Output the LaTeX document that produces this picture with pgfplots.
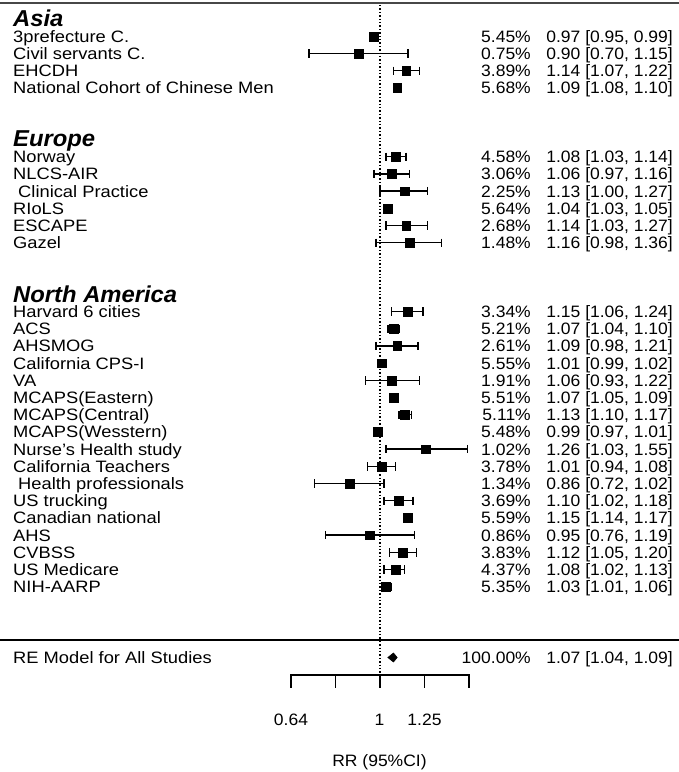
\documentclass[border=0pt]{standalone}
\usepackage{pgfplots}
\pgfplotsset{compat=1.18}
\usepackage{pgfplotstable}
\usepackage{fontspec}
\setmainfont{Liberation Sans}

% point estimates: y = -(row centre in px from top), RR
\pgfplotstableread{
y est
-36.4 0.97
-53.6 0.90
-70.8 1.14
-88.0 1.09
-156.8 1.08
-174.0 1.06
-191.2 1.13
-208.4 1.04
-225.6 1.14
-242.8 1.16
-311.6 1.15
-328.8 1.07
-346.0 1.09
-363.2 1.01
-380.4 1.06
-397.6 1.07
-414.8 1.13
-432.0 0.99
-449.2 1.26
-466.4 1.01
-483.6 0.86
-500.8 1.10
-518.0 1.15
-535.2 0.95
-552.4 1.12
-569.6 1.08
-586.8 1.03
}\est
% 95% CI limits, one segment per study
\pgfplotstableread{
x y
0.95 -36.4
0.99 -36.4
nan nan
0.70 -53.6
1.15 -53.6
nan nan
1.07 -70.8
1.22 -70.8
nan nan
1.08 -88.0
1.10 -88.0
nan nan
1.03 -156.8
1.14 -156.8
nan nan
0.97 -174.0
1.16 -174.0
nan nan
1.00 -191.2
1.27 -191.2
nan nan
1.03 -208.4
1.05 -208.4
nan nan
1.03 -225.6
1.27 -225.6
nan nan
0.98 -242.8
1.36 -242.8
nan nan
1.06 -311.6
1.24 -311.6
nan nan
1.04 -328.8
1.10 -328.8
nan nan
0.98 -346.0
1.21 -346.0
nan nan
0.99 -363.2
1.02 -363.2
nan nan
0.93 -380.4
1.22 -380.4
nan nan
1.05 -397.6
1.09 -397.6
nan nan
1.10 -414.8
1.17 -414.8
nan nan
0.97 -432.0
1.01 -432.0
nan nan
1.03 -449.2
1.55 -449.2
nan nan
0.94 -466.4
1.08 -466.4
nan nan
0.72 -483.6
1.02 -483.6
nan nan
1.02 -500.8
1.18 -500.8
nan nan
1.14 -518.0
1.17 -518.0
nan nan
0.76 -535.2
1.19 -535.2
nan nan
1.05 -552.4
1.20 -552.4
nan nan
1.02 -569.6
1.13 -569.6
nan nan
1.01 -586.8
1.06 -586.8
}\ci

\newcommand\row[4]{%
  \node[lab] at (13,#1+6) {#2};
  \node[num] at (531,#1+6) {#3};
  \node[num] at (673,#1+6) {#4};}

\begin{document}
\begin{tikzpicture}
\begin{axis}[at={(0,0)}, anchor=south west, scale only axis,
  width=679pt, height=772pt, xmode=log, xmin=0.14873, xmax=4.4795,
  ymin=-772, ymax=0, axis lines=none, clip=false]
\addplot[black, dash pattern=on 1.4pt off 2pt, line width=1.3pt] coordinates {(1,-5) (1,-676)};
\addplot[black, line width=1.4pt, unbounded coords=jump, mark=|, mark size=4.2pt, mark options={line width=1.4pt}] table[x=x, y=y] {\ci};
\addplot[only marks, black, mark=square*, mark size=4.4pt] table[x=est, y=y] {\est};
% summary diamond: 1.07 [1.04, 1.09]
\addplot[fill=black, draw=black, line width=0.6pt] coordinates {(1.04,-657.5) (1.07,-653) (1.09,-657.5) (1.07,-662)} -- cycle;
% x axis
\draw[line width=1.3pt] (axis cs:0.64,-688) -- (axis cs:0.64,-675) -- (axis cs:1.5625,-675) -- (axis cs:1.5625,-688);
\draw[line width=1.3pt] (axis cs:0.8,-675) -- (axis cs:0.8,-688);
\draw[line width=1.3pt] (axis cs:1,-675) -- (axis cs:1,-688);
\draw[line width=1.3pt] (axis cs:1.25,-675) -- (axis cs:1.25,-688);
\end{axis}

\begin{scope}[shift={(0pt,772pt)}, x=1pt, y=-1pt,
  lab/.style={anchor=base west, inner sep=0pt, font=\fontsize{16.5}{16.5}\selectfont, xscale=1.11},
  num/.style={anchor=base east, inner sep=0pt, font=\fontsize{16.5}{16.5}\selectfont, xscale=1.06},
  hd/.style={anchor=base west, inner sep=0pt, font=\fontsize{23}{23}\selectfont\bfseries\itshape, xscale=1.035}]
\draw[line width=1.8pt, black!72] (0,3) -- (679,3);
\draw[line width=1.3pt] (0,640) -- (679,640);

\node[hd] at (13,27) {Asia};
\row{36.4}{3prefecture C.}{5.45\%}{0.97 [0.95, 0.99]}
\row{53.6}{Civil servants C.}{0.75\%}{0.90 [0.70, 1.15]}
\row{70.8}{EHCDH}{3.89\%}{1.14 [1.07, 1.22]}
\row{88.0}{National Cohort of Chinese Men}{5.68\%}{1.09 [1.08, 1.10]}

\node[hd] at (13,147) {Europe};
\row{156.8}{Norway}{4.58\%}{1.08 [1.03, 1.14]}
\row{174.0}{NLCS-AIR}{3.06\%}{1.06 [0.97, 1.16]}
\row{191.2}{\hspace{4.5pt}Clinical Practice}{2.25\%}{1.13 [1.00, 1.27]}
\row{208.4}{RIoLS}{5.64\%}{1.04 [1.03, 1.05]}
\row{225.6}{ESCAPE}{2.68\%}{1.14 [1.03, 1.27]}
\row{242.8}{Gazel}{1.48\%}{1.16 [0.98, 1.36]}

\node[hd] at (13,302.5) {North America};
\row{311.6}{Harvard 6 cities}{3.34\%}{1.15 [1.06, 1.24]}
\row{328.8}{ACS}{5.21\%}{1.07 [1.04, 1.10]}
\row{346.0}{AHSMOG}{2.61\%}{1.09 [0.98, 1.21]}
\row{363.2}{California CPS-I}{5.55\%}{1.01 [0.99, 1.02]}
\row{380.4}{VA}{1.91\%}{1.06 [0.93, 1.22]}
\row{397.6}{MCAPS(Eastern)}{5.51\%}{1.07 [1.05, 1.09]}
\row{414.8}{MCAPS(Central)}{5.11\%}{1.13 [1.10, 1.17]}
\row{432.0}{MCAPS(Wesstern)}{5.48\%}{0.99 [0.97, 1.01]}
\row{449.2}{Nurse\char"27 s Health study}{1.02\%}{1.26 [1.03, 1.55]}
\row{466.4}{California Teachers}{3.78\%}{1.01 [0.94, 1.08]}
\row{483.6}{\hspace{4.5pt}Health professionals}{1.34\%}{0.86 [0.72, 1.02]}
\row{500.8}{US trucking}{3.69\%}{1.10 [1.02, 1.18]}
\row{518.0}{Canadian national}{5.59\%}{1.15 [1.14, 1.17]}
\row{535.2}{AHS}{0.86\%}{0.95 [0.76, 1.19]}
\row{552.4}{CVBSS}{3.83\%}{1.12 [1.05, 1.20]}
\row{569.6}{US Medicare}{4.37\%}{1.08 [1.02, 1.13]}
\row{586.8}{NIH-AARP}{5.35\%}{1.03 [1.01, 1.06]}

\row{657.5}{RE Model for All Studies}{100.00\%}{1.07 [1.04, 1.09]}

\node[num, anchor=base] at (291,726) {0.64};
\node[num, anchor=base] at (379.5,726) {1};
\node[num, anchor=base] at (424.5,726) {1.25};
\node[num, anchor=base] at (379.5,766.5) {RR (95\%CI)};
\end{scope}
\pgfresetboundingbox
\path[use as bounding box] (0,0) rectangle (679pt,772pt);
\end{tikzpicture}
\end{document}
